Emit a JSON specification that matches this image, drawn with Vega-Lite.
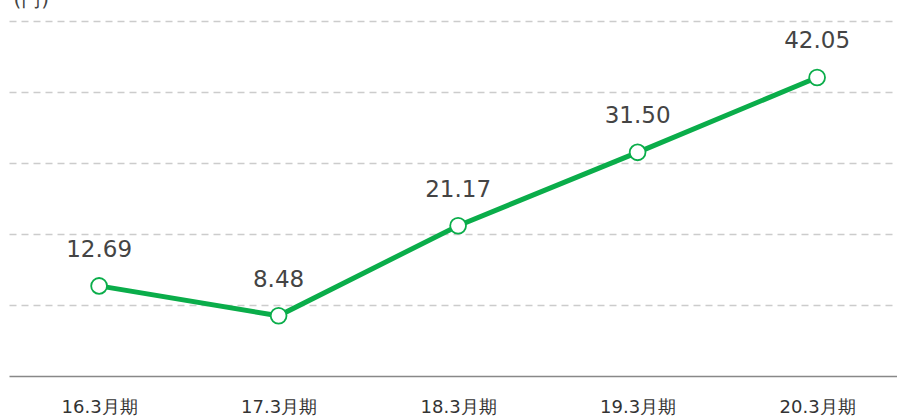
{
  "$schema": "https://vega.github.io/schema/vega-lite/v6.json",
  "autosize": "none",
  "width": 888,
  "height": 355,
  "padding": {"left": 9, "top": 21, "right": 0, "bottom": 43},
  "background": "white",
  "config": {"view": {"stroke": null}, "font": "DejaVu Sans"},
  "data": {"values": [
    {"period": "16.3月期", "value": 12.69, "label": "12.69"},
    {"period": "17.3月期", "value": 8.48, "label": "8.48"},
    {"period": "18.3月期", "value": 21.17, "label": "21.17"},
    {"period": "19.3月期", "value": 31.50, "label": "31.50"},
    {"period": "20.3月期", "value": 42.05, "label": "42.05"}
  ]},
  "encoding": {
    "x": {"field": "period", "type": "ordinal", "sort": null,
      "scale": {"type": "point", "padding": 0.4735, "align": 0.53},
      "axis": {"title": null, "labelAngle": 0, "ticks": false, "domainColor": "#888888", "domainWidth": 1.5,
        "labelFontSize": 18, "labelColor": "#333333", "labelPadding": 22, "grid": false}},
    "y": {"field": "value", "type": "quantitative",
      "scale": {"domain": [0, 50]},
      "axis": {"title": "(円)", "titleAngle": 0, "titleX": 4, "titleY": -12, "titleAlign": "left", "titleBaseline": "bottom",
        "titleFontSize": 20, "titleFontWeight": "normal", "titleColor": "#444444",
        "labels": false, "ticks": false, "domain": false, "values": [10, 20, 30, 40, 50],
        "gridColor": "#cccccc", "gridDash": [7, 5], "gridWidth": 1.4}}
  },
  "layer": [
    {"mark": {"type": "line", "color": "#0aad4a", "strokeWidth": 5}},
    {"mark": {"type": "point", "filled": true, "fill": "white", "stroke": "#0aad4a", "strokeWidth": 1.8, "size": 250, "opacity": 1}},
    {"mark": {"type": "text", "dy": -36, "fontSize": 23, "color": "#444444", "baseline": "middle"},
      "encoding": {"text": {"field": "label"}}}
  ]
}
